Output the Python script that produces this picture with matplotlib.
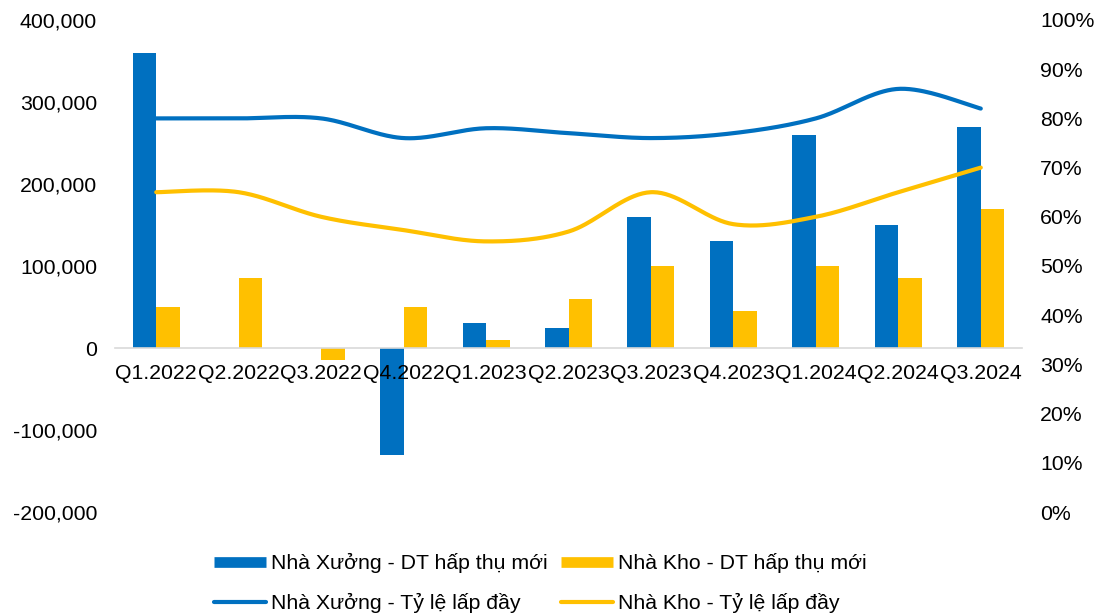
import numpy as np
import matplotlib.pyplot as plt
from matplotlib.lines import Line2D
from matplotlib.ticker import FuncFormatter

plt.rcParams['font.family'] = ['Liberation Sans', 'DejaVu Sans']

quarters = ["Q1.2022", "Q2.2022", "Q3.2022", "Q4.2022", "Q1.2023", "Q2.2023",
            "Q3.2023", "Q4.2023", "Q1.2024", "Q2.2024", "Q3.2024"]
# new absorbed area (m2)
xuong_dt = [360000, 0, 0, -130000, 30000, 25000, 160000, 130000, 260000, 150000, 270000]
kho_dt = [50000, 85000, -15000, 50000, 10000, 60000, 100000, 45000, 100000, 85000, 170000]
# occupancy rate
xuong_rate = [0.80, 0.80, 0.80, 0.76, 0.78, 0.77, 0.76, 0.77, 0.80, 0.86, 0.82]
kho_rate = [0.65, 0.65, 0.60, 0.573, 0.55, 0.57, 0.65, 0.585, 0.60, 0.65, 0.70]

blue = "#0070C0"
yellow = "#FFC000"
fs = 15.3


def smooth(y, n=40):
    # Catmull-Rom style bezier, like Excel's smoothed line
    x = np.arange(len(y), dtype=float)
    y = np.asarray(y, dtype=float)
    px = np.concatenate([[x[0]], x, [x[-1]]])
    py = np.concatenate([[y[0]], y, [y[-1]]])
    t = np.linspace(0, 1, n)[:, None]
    xs, ys = [], []
    for i in range(len(y) - 1):
        p0 = np.array([px[i], py[i]])
        p1 = np.array([px[i + 1], py[i + 1]])
        p2 = np.array([px[i + 2], py[i + 2]])
        p3 = np.array([px[i + 3], py[i + 3]])
        c1 = p1 + (p2 - p0) / 6
        c2 = p2 - (p3 - p1) / 6
        pts = ((1 - t) ** 3) * p1 + 3 * ((1 - t) ** 2) * t * c1 + 3 * (1 - t) * t ** 2 * c2 + t ** 3 * p2
        xs.extend(pts[:, 0])
        ys.extend(pts[:, 1])
    return np.array(xs), np.array(ys)


fig = plt.figure(figsize=(11.11, 6.16), dpi=100)
ax = fig.add_axes([115 / 1111, 1 - 512 / 616, (1022 - 115) / 1111, (512 - 20) / 616])

x = np.arange(len(quarters))
w = 0.285
ax.bar(x - w / 2, xuong_dt, w, color=blue, linewidth=0)
ax.bar(x + w / 2, kho_dt, w, color=yellow, linewidth=0)

ax.set_xlim(-0.5, len(quarters) - 0.5)
ax.set_ylim(-200000, 400000)
ax.set_yticks(np.arange(-200000, 400001, 100000))
ax.yaxis.set_major_formatter(FuncFormatter(lambda v, p: f"{v:,.0f}"))
ax.set_xticks(x)
ax.set_xticklabels(quarters)
ax.tick_params(axis='y', length=0, pad=13, labelsize=fs, colors='#000000')
ax.tick_params(axis='x', length=0, pad=11.5, labelsize=fs)
for s in ['top', 'left', 'right']:
    ax.spines[s].set_visible(False)
ax.spines['bottom'].set_position(('data', 0))
ax.spines['bottom'].set_color('#d9d9d9')
ax.spines['bottom'].set_linewidth(1.2)

ax2 = ax.twinx()
ax2.set_ylim(0, 1)
ax2.set_yticks(np.arange(0, 1.01, 0.1))
ax2.yaxis.set_major_formatter(FuncFormatter(lambda v, p: f"{v * 100:.0f}%"))
ax2.tick_params(axis='y', length=0, pad=13, labelsize=fs)
for s in ax2.spines.values():
    s.set_visible(False)

sx, sy = smooth(xuong_rate)
ax2.plot(sx, sy, color=blue, lw=3, solid_capstyle='round')
sx, sy = smooth(kho_rate)
ax2.plot(sx, sy, color=yellow, lw=3, solid_capstyle='round')

handles = [
    Line2D([], [], color=blue, lw=7.7, solid_capstyle='butt'),
    Line2D([], [], color=blue, lw=3, solid_capstyle='round'),
    Line2D([], [], color=yellow, lw=7.7, solid_capstyle='butt'),
    Line2D([], [], color=yellow, lw=3, solid_capstyle='round'),
]
labels = ["Nhà Xưởng - DT hấp thụ mới", "Nhà Xưởng - Tỷ lệ lấp đầy",
          "Nhà Kho - DT hấp thụ mới", "Nhà Kho - Tỷ lệ lấp đầy"]
fig.legend(handles, labels, ncol=2, loc='center left', frameon=False,
           bbox_to_anchor=(214 / 1111, 1 - 583 / 616), fontsize=fs,
           handlelength=2.43, handletextpad=0.24, columnspacing=0.66,
           labelspacing=0.93, borderpad=0, borderaxespad=0)

fig.savefig("out.png", dpi=100)
